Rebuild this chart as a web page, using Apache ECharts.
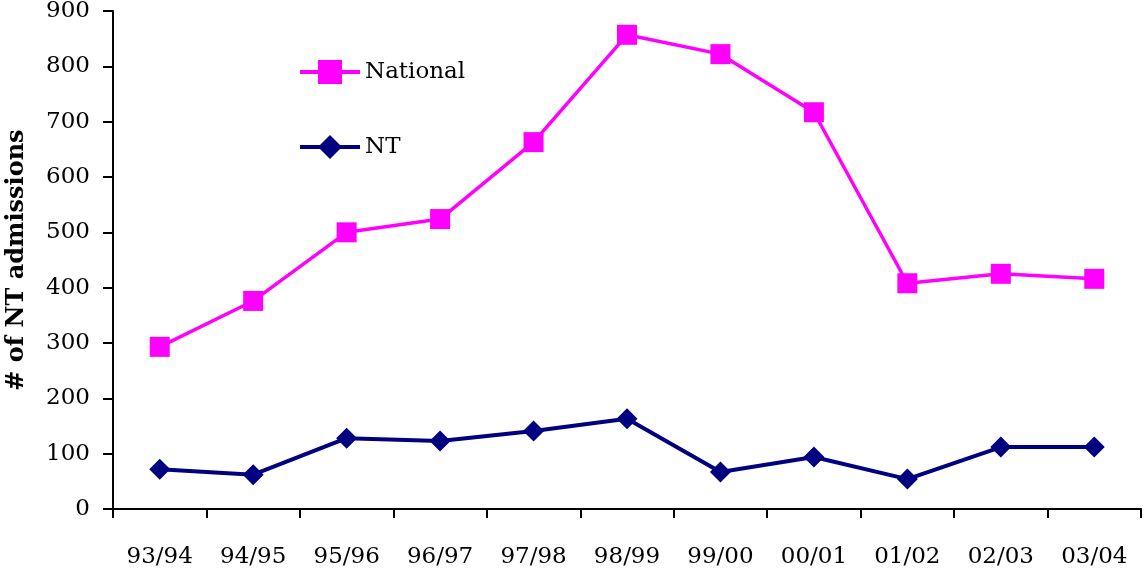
<!DOCTYPE html>
<html>
<head>
<meta charset="utf-8">
<script src="https://cdn.jsdelivr.net/npm/echarts@6/dist/echarts.min.js"></script>
<style>
html,body{margin:0;padding:0;background:#fff;}
#chart{width:1144px;height:573px;}
</style>
</head>
<body>
<div id="chart"></div>
<script>
const categories = ['93/94','94/95','95/96','96/97','97/98','98/99','99/00','00/01','01/02','02/03','03/04'];
const nationalValues = [293, 376, 500, 524, 663, 857, 822, 717, 408, 425, 416];
const ntValues = [72, 62, 128, 123, 141, 163, 67, 94, 54, 112, 112];
const yTicks = [0, 100, 200, 300, 400, 500, 600, 700, 800, 900];

const FONT = 'DejaVu Serif';
const chart = echarts.init(document.getElementById('chart'));
chart.setOption({
  animation: false,
  backgroundColor: '#ffffff',
  grid: {left: 113, right: 3, top: 11, bottom: 64, containLabel: false, outerBoundsMode: 'none'},
  legend: {
    orient: 'vertical',
    left: 293,
    top: 55,
    itemWidth: 60,
    itemHeight: 30,
    itemGap: 51,
    lineStyle: {width: 4},
    textStyle: {fontFamily: FONT, fontSize: 23, color: '#000'},
    data: ['National', 'NT']
  },
  xAxis: {
    type: 'category',
    data: categories,
    boundaryGap: true,
    axisLine: {lineStyle: {color: '#000', width: 2}},
    axisTick: {show: true, length: 9, lineStyle: {color: '#000', width: 2}},
    axisLabel: {fontFamily: FONT, fontSize: 23, color: '#000', margin: 37, interval: 0},
    splitLine: {show: false}
  },
  yAxis: {
    type: 'value',
    min: 0,
    max: 900,
    interval: 100,
    name: '# of NT admissions',
    nameLocation: 'middle',
    nameRotate: 90,
    nameGap: 84,
    nameTextStyle: {fontFamily: FONT, fontSize: 24, fontWeight: 'bold', color: '#000'},
    axisLine: {show: true, lineStyle: {color: '#000', width: 2}},
    axisTick: {show: true, length: 10, lineStyle: {color: '#000', width: 2}},
    axisLabel: {fontFamily: FONT, fontSize: 23, color: '#000', margin: 23,
      formatter: v => yTicks.includes(v) ? String(v) : ''},
    splitLine: {show: false}
  },
  series: [
    {
      name: 'National',
      type: 'line',
      data: nationalValues,
      symbol: 'rect',
      symbolSize: 20,
      lineStyle: {color: '#FF00FF', width: 3.5},
      itemStyle: {color: '#FF00FF'}
    },
    {
      name: 'NT',
      type: 'line',
      data: ntValues,
      symbol: 'diamond',
      symbolSize: [21, 21],
      lineStyle: {color: '#000080', width: 4},
      itemStyle: {color: '#000080'}
    }
  ]
});
</script>
</body>
</html>
